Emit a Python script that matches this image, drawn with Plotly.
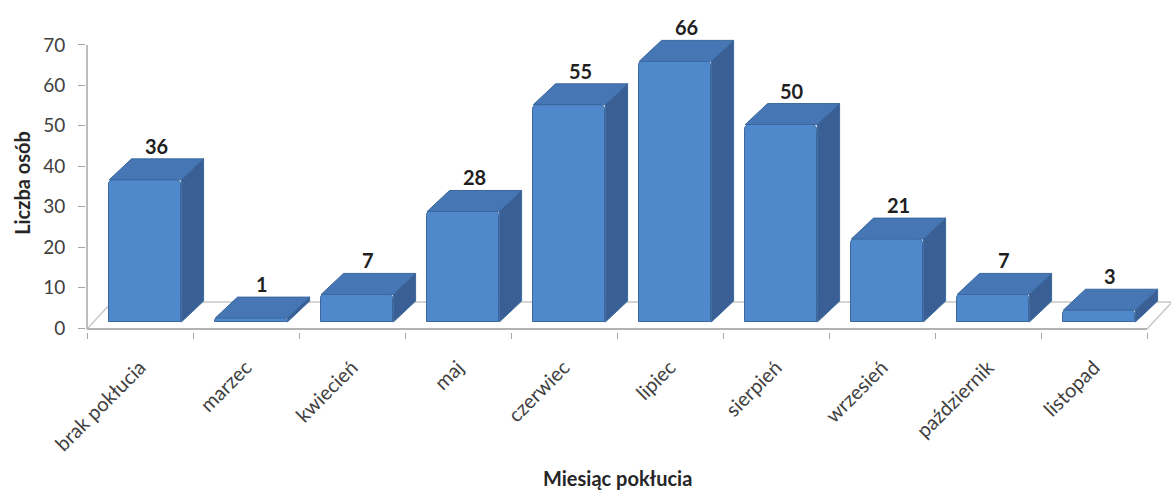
import plotly.graph_objects as go

# Miesiąc pokłucia -> liczba osób
categories = ["brak pokłucia", "marzec", "kwiecień", "maj", "czerwiec",
              "lipiec", "sierpień", "wrzesień", "październik", "listopad"]
counts = [36, 1, 7, 28, 55, 66, 50, 21, 7, 3]
y_ticks = [0, 10, 20, 30, 40, 50, 60, 70]

# pseudo-3D geometry (x in category units, y in bar-axis units)
FACE_W = 0.68
FACE_SHIFT = 0.05
DEPTH_X = 0.21
DEPTH_Y = 5.3
# floor outline, in value-axis units
FLOOR_DX = 0.236
FLOOR_FRONT = -0.25
FLOOR_BACK = 6.43

FONT = "Lato, 'Open Sans', sans-serif"
FRONT = "#5089CB"
TOP = "#4677B4"
SIDE = "#395F94"
EDGE = "#3A679E"
GRID = "#A6A6A6"

idx = list(range(len(categories)))
n = len(categories)
px_per_cat = 106.0

fig = go.Figure()

# value axis line (stops at the top tick)
fig.add_trace(go.Scatter(x=[-0.5, -0.5], y=[FLOOR_FRONT, y_ticks[-1]], mode="lines",
                         line=dict(color=GRID, width=1.5),
                         hoverinfo="skip", showlegend=False))

# floor outline (on the value axis, below the bars)
fx = [-0.5, n - 0.5, n - 0.5 + FLOOR_DX, -0.5 + FLOOR_DX, -0.5]
fy = [FLOOR_FRONT, FLOOR_FRONT, FLOOR_BACK, FLOOR_BACK, FLOOR_FRONT]
fig.add_trace(go.Scatter(x=fx, y=fy, mode="lines",
                         line=dict(color="#C8C8C8", width=1.5),
                         hoverinfo="skip", showlegend=False))
# front edge (category axis line)
fig.add_trace(go.Scatter(x=[-0.5, n - 0.5], y=[FLOOR_FRONT, FLOOR_FRONT],
                         mode="lines", line=dict(color=GRID, width=1.5),
                         hoverinfo="skip", showlegend=False))

# side and top faces
sx, sy, tx, ty = [], [], [], []
for i, v in zip(idx, counts):
    xl = i + FACE_SHIFT - FACE_W / 2
    xr = xl + FACE_W
    sx += [xr, xr, xr + DEPTH_X, xr + DEPTH_X, xr, None]
    sy += [0, v, v + DEPTH_Y, DEPTH_Y, 0, None]
    tx += [xl, xr, xr + DEPTH_X, xl + DEPTH_X, xl, None]
    ty += [v, v, v + DEPTH_Y, v + DEPTH_Y, v, None]

fig.add_trace(go.Scatter(x=sx, y=sy, yaxis="y2", mode="lines", fill="toself",
                         fillcolor=SIDE, line=dict(color=EDGE, width=1),
                         hoverinfo="skip", showlegend=False))
fig.add_trace(go.Scatter(x=tx, y=ty, yaxis="y2", mode="lines", fill="toself",
                         fillcolor=TOP, line=dict(color=EDGE, width=1),
                         hoverinfo="skip", showlegend=False))

# front faces
fig.add_trace(go.Bar(x=idx, y=counts, yaxis="y2", width=FACE_W,
                     offset=FACE_SHIFT - FACE_W / 2,
                     marker=dict(color=FRONT, line=dict(color=EDGE, width=1),
                                 cornerradius=5),
                     showlegend=False))

# value labels above each bar
value_labels = [dict(text="<b>%d</b>" % v, x=i + FACE_SHIFT + DEPTH_X / 2, xref="x",
                     y=v + DEPTH_Y, yref="y2", yanchor="bottom", yshift=-1,
                     showarrow=False, font=dict(family=FONT, size=20, color="#1F1F1F"))
                for i, v in zip(idx, counts)]

fig.update_layout(
    width=1171, height=492,
    margin=dict(l=86, r=0, t=10, b=160),
    paper_bgcolor="white", plot_bgcolor="white",
    font=dict(family=FONT, color="#404040"),
    bargap=0,
    xaxis=dict(
        range=[-0.5 - 1 / px_per_cat, n - 0.5 + 24 / px_per_cat],
        tickmode="array", tickvals=idx, ticktext=categories,
        tickangle=-45, ticks="", showline=False, showgrid=False, zeroline=False,
        tickfont=dict(size=20, color="#404040"),
        ticklabelstandoff=19,
        minor=dict(tickmode="array", tickvals=[i - 0.5 for i in range(n + 1)],
                   ticks="outside", ticklen=6, tickcolor=GRID, tickwidth=1,
                   showgrid=False),
    ),
    yaxis=dict(
        range=[-0.99, 78.65],
        tickmode="array", tickvals=y_ticks,
        ticks="outside", ticklen=7, tickcolor=GRID,
        showline=False, showgrid=False, zeroline=False,
        tickfont=dict(size=19, color="#404040"),
        ticklabelstandoff=9,
    ),
    yaxis2=dict(range=[-2.53, 78.99], overlaying="y", visible=False),
    annotations=value_labels + [
        dict(text="<b>Miesiąc pokłucia</b>", x=4.5, xref="x",
             y=0, yref="paper", yanchor="middle", yshift=-146,
             showarrow=False, font=dict(size=20, color="#262626")),
        dict(text="<b>Liczba osób</b>", x=0, xref="paper", xshift=-64,
             xanchor="center", y=35.9, yref="y", yanchor="middle",
             textangle=-90, showarrow=False,
             font=dict(size=20, color="#262626")),
    ],
)

fig.write_html("out.html")
